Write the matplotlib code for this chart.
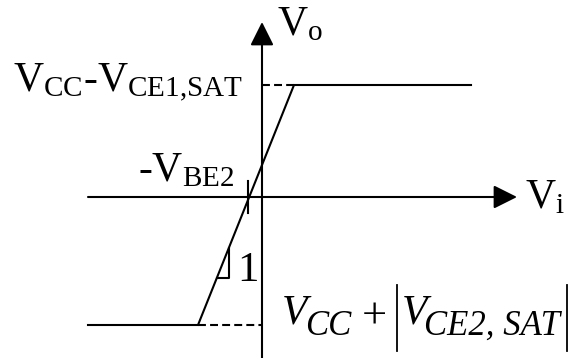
import matplotlib
matplotlib.use("Agg")
import matplotlib.pyplot as plt

plt.rcParams['font.family'] = ['Liberation Serif', 'DejaVu Serif']
plt.rcParams['mathtext.fontset'] = 'custom'
plt.rcParams['mathtext.rm'] = 'Liberation Serif'
plt.rcParams['mathtext.it'] = 'Liberation Serif:italic'
plt.rcParams['mathtext.bf'] = 'Liberation Serif:bold'

# transfer characteristic (Vi, Vo), arbitrary units
vi = [-17.4, -6.4, 3.2, 20.9]
vo = [-12.8, -12.8, 11.2, 11.2]

# saturation levels and the -VBE2 crossing
vo_high = 11.2
vo_low = -12.8
vi_high = 3.2
vi_low = -6.4
vi_cross = -1.4

# slope triangle
tri_x = [-4.5, -3.3, -3.3]
tri_y = [-8.1, -8.1, -5.1]

# axis extents
x_axis = [-17.4, 25.5]
y_axis = [-16.1, 17.5]

fig = plt.figure(figsize=(5.7, 3.58), dpi=100)
ax = fig.add_axes([0, 0, 1, 1])
ax.set_xlim(-26.2, 30.8)
ax.set_ylim(-16.1, 19.7)
ax.axis('off')

lw = 1.5
arrow = dict(arrowstyle='-|>,head_length=1.0,head_width=0.5', mutation_scale=14.4,
             lw=lw, color='k', shrinkA=0, shrinkB=0)
ax.annotate('', xy=(x_axis[1], 0), xytext=(x_axis[0], 0), arrowprops=arrow)
ax.annotate('', xy=(0, y_axis[1]), xytext=(0, y_axis[0]), arrowprops=arrow)

ax.plot(vi, vo, color='k', lw=lw, solid_joinstyle='miter')
dash = (0, (3.8, 2.0))
ax.plot([0, vi_high], [vo_high, vo_high], color='k', lw=lw, ls=dash)
ax.plot([vi_low, 0], [vo_low, vo_low], color='k', lw=lw, ls=dash)
ax.plot([vi_cross, vi_cross], [1.6, -1.6], color='k', lw=lw)
ax.plot(tri_x, tri_y, color='k', lw=lw)

fs = 30
ax.text(1.5, 16.2, r'$\mathrm{V_o}$', fontsize=fs, va='baseline')
ax.text(-24.9, 10.5, r'$\mathrm{V_{CC}}$-$\mathrm{V_{CE1{,}SAT}}$', fontsize=fs, va='baseline')
ax.text(-12.4, 1.6, r'-$\mathrm{V_{BE2}}$', fontsize=fs, va='baseline')
ax.text(-2.5, -8.4, '1', fontsize=31, va='baseline')
ax.text(26.3, -1.1, r'$\mathrm{V_i}$', fontsize=fs, va='baseline')

# V_CC + |V_CE2,SAT| in italics, large subscripts and tall bars
sub = 25
ax.text(2.0, -12.6, 'V', fontsize=fs, style='italic', va='baseline')
ax.text(4.3, -13.8, 'CC', fontsize=sub, style='italic', va='baseline')
ax.text(11.2, -13.2, '+', fontsize=32, ha='center', va='baseline')
ax.text(14.0, -12.6, 'V', fontsize=fs, style='italic', va='baseline')
ax.text(16.2, -13.8, 'CE2, SAT', fontsize=sub, style='italic', va='baseline')
ax.plot([13.5, 13.5], [-8.8, -15.4], color='k', lw=1.3)
ax.plot([30.5, 30.5], [-8.8, -15.4], color='k', lw=1.3)

fig.savefig('out.png', dpi=100)
